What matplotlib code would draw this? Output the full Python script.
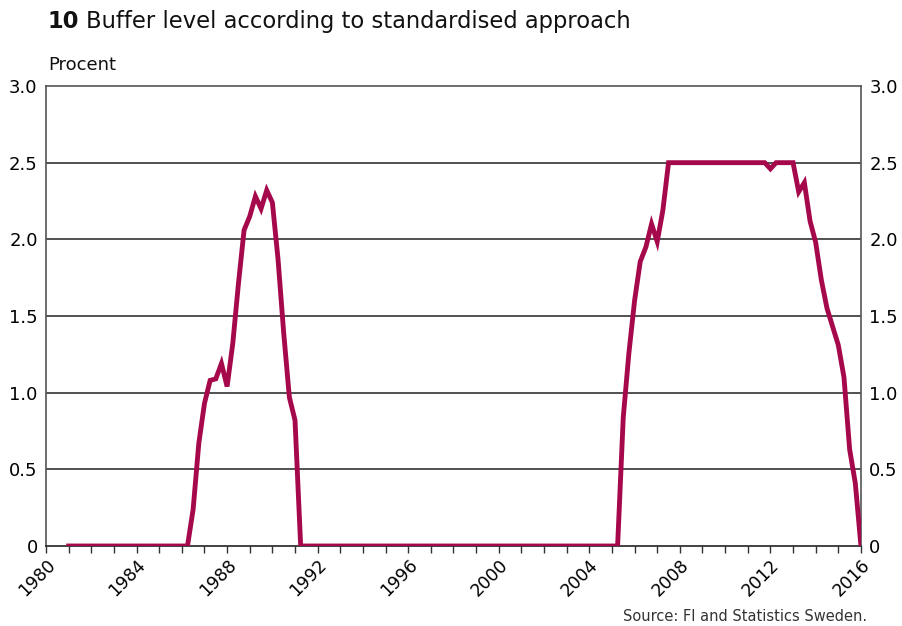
import matplotlib
matplotlib.use("Agg")
import matplotlib.pyplot as plt
import numpy as np
import pandas as pd
from matplotlib.ticker import MultipleLocator, FuncFormatter

# quarterly buffer level, 1981Q1 - 2016Q1
start_q = "1981Q1"
end_q = "2016Q1"
pre_zero = [0.0] * 21          # 1981Q1 - 1986Q1
hump_1 = [0.0, 0.24, 0.67, 0.93, 1.08, 1.09, 1.19, 1.04, 1.32, 1.71, 2.06,
          2.15, 2.28, 2.20, 2.32, 2.24, 1.87, 1.39, 0.97, 0.82, 0.0]   # 1986Q2 - 1991Q2
mid_zero = [0.0] * 55          # 1991Q3 - 2005Q1
hump_2 = [0.0, 0.84, 1.26, 1.60, 1.855, 1.95, 2.10, 1.985, 2.19,
          2.5, 2.5, 2.5, 2.5, 2.5, 2.5, 2.5, 2.5, 2.5, 2.5, 2.5, 2.5, 2.5, 2.5, 2.5, 2.5, 2.5, 2.5,
          2.46, 2.5, 2.5, 2.5, 2.5,
          2.31, 2.37, 2.12, 1.98, 1.735, 1.55, 1.43, 1.31, 1.10, 0.63, 0.41, 0.0]  # 2005Q2 - 2016Q1
buffer = pre_zero + hump_1 + mid_zero + hump_2

quarters = pd.period_range(start_q, end_q, freq="Q")
t = quarters.year + (quarters.quarter - 1) / 4.0

year_ticks = list(range(1980, 2017, 4))
y_ticks = [0, 0.5, 1.0, 1.5, 2.0, 2.5, 3.0]

title_num = "10"
title_txt = "Buffer level according to standardised approach"
unit_txt = "Procent"
source_txt = "Source: FI and Statistics Sweden."

line_col = "#A6084C"
font = "DejaVu Sans"

fig = plt.figure(figsize=(9.02, 6.26), dpi=100)
ax = fig.add_axes([0.051, 0.1278, 0.9035, 0.7348])

for y in y_ticks[1:-1]:
    ax.axhline(y, color="#222222", lw=1.1, zorder=1)
ax.plot(t, buffer, color=line_col, lw=3.5, solid_joinstyle="miter", zorder=3)

ax.set_xlim(1980, 2016)
ax.set_ylim(0, 3)
ax.set_xticks(year_ticks)
ax.xaxis.set_minor_locator(MultipleLocator(1))
ax.set_yticks(y_ticks)
ax.yaxis.set_major_formatter(FuncFormatter(lambda v, p: "0" if v == 0 else f"{v:.1f}"))

ax.tick_params(axis="x", which="both", direction="out", length=5, width=1, color="#333333")
ax.tick_params(axis="x", which="major", labelsize=12.5, labelrotation=45, pad=2)
for lab in ax.get_xticklabels():
    lab.set_ha("right")
    lab.set_rotation_mode("anchor")
    lab.set_family(font)
ax.tick_params(axis="y", length=0, labelsize=13, left=True, right=True,
               labelleft=True, labelright=True, pad=6)
for lab in ax.get_yticklabels():
    lab.set_family(font)

for s in ["left", "right", "top"]:
    ax.spines[s].set_color("#555555")
    ax.spines[s].set_linewidth(1.2)
ax.spines["bottom"].set_color("#222222")
ax.spines["bottom"].set_linewidth(1.2)

fig.canvas.draw()
t1 = fig.text(48 / 902, 1 - 28 / 626, title_num, fontsize=16.3, fontweight="bold",
              family=font, color="#111111", va="baseline")
bb = t1.get_window_extent(fig.canvas.get_renderer())
fig.text((bb.x1 + 6) / 902, 1 - 28 / 626, title_txt, fontsize=16.3, family=font,
         color="#111111", va="baseline")
fig.text(48 / 902, 1 - 70 / 626, unit_txt, fontsize=13, family=font,
         color="#111111", va="baseline")
fig.text(867 / 902, 1 - 621 / 626, source_txt, fontsize=10.5, family=font,
         color="#333333", ha="right", va="baseline")

fig.savefig("out.png", dpi=100)
